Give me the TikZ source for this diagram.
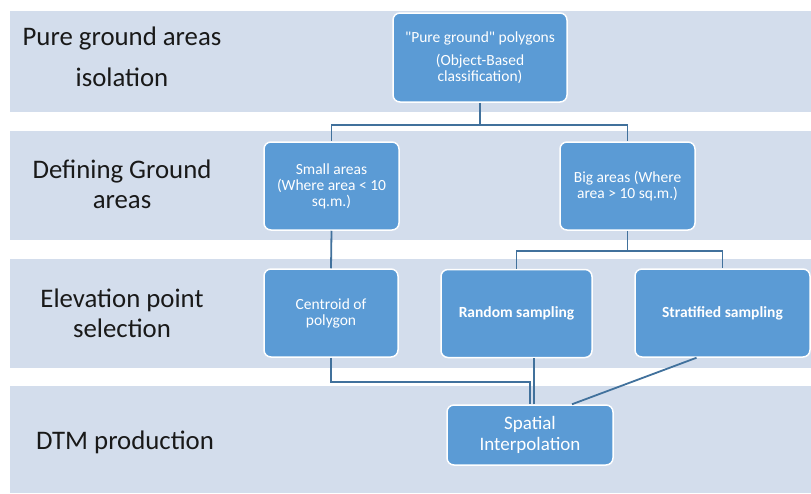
\documentclass[tikz,border=0pt]{standalone}
\usepackage{fontspec}
\setmainfont{Carlito}[Ligatures=TeXOff]
\usetikzlibrary{calc}
\definecolor{bandfill}{RGB}{211,221,236}
\definecolor{boxfill}{RGB}{91,155,213}
\definecolor{linecol}{RGB}{65,113,156}
\definecolor{labelcol}{RGB}{25,25,25}
\tikzset{
  band/.style={fill=bandfill, draw=none},
  stepbox/.style={rectangle, rounded corners=7pt, fill=boxfill, draw=white, line width=1.5pt,
    text=white, align=center, inner sep=2pt, font=\fontsize{15.5}{16}\selectfont},
  boldbox/.style={stepbox, font=\fontsize{15.5}{16}\selectfont\bfseries},
  rowlabel/.style={anchor=base, text=labelcol, font=\fontsize{26.8}{30}\selectfont, inner sep=0pt},
  conn/.style={draw=linecol, line width=1.8pt}
}
\begin{document}
\begin{tikzpicture}[x=1pt,y=-1pt]
\useasboundingbox (0,0) rectangle (811,493);
\fill[white] (0,0) rectangle (811,493);
% bands
\fill[band] (10,11) rectangle (811,112);
\fill[band] (10,131) rectangle (811,240);
\fill[band] (10,259) rectangle (811,368);
\fill[band] (10,386) rectangle (811,493);
% row labels
\node[rowlabel] (l1a) at (122,45) {Pure ground areas};
\node[rowlabel] (l1b) at (122,86) {isolation};
\node[rowlabel] (l2a) at (122,178) {Defining Ground};
\node[rowlabel] (l2b) at (122,208) {areas};
\node[rowlabel] (l3a) at (122,307) {Elevation point};
\node[rowlabel] (l3b) at (122,337) {selection};
\node[rowlabel] (l4a) at (125,449) {DTM production};
% boxes
\node[stepbox, minimum width=174pt, minimum height=89pt] (top) at (480,57.5)
  {"Pure ground" polygons\\[7pt](Object-Based\\classification)};
\node[stepbox, minimum width=135pt, minimum height=88pt] (small) at (331.5,186)
  {Small areas\\(Where area < 10\\sq.m.)};
\node[stepbox, minimum width=135pt, minimum height=88pt] (big) at (627.5,186)
  {Big areas (Where\\area > 10 sq.m.)};
\node[stepbox, minimum width=134pt, minimum height=88pt] (centroid) at (331,313)
  {Centroid of\\polygon};
\node[boldbox, minimum width=151pt, minimum height=88pt] (random) at (516.5,313.5)
  {Random sampling};
\node[boldbox, minimum width=175pt, minimum height=88pt] (strat) at (722.5,313)
  {Stratified sampling};
\node[stepbox, minimum width=166pt, minimum height=60pt, font=\fontsize{19}{21}\selectfont] (spatial) at (530,435)
  {Spatial\\Interpolation};
% connectors
\draw[conn] (top.south) -- ++(0,22) -| (small.north);
\draw[conn] (top.south) ++(0,22) -| (big.north);
\draw[conn] (small.south) -- (centroid.north);
\draw[conn] (big.south) -- ++(0,20) -| (random.north);
\draw[conn] (big.south) ++(0,20) -| (strat.north);
\draw[conn] (centroid.south) |- ($(spatial.north)+(0,-22)$) -- (spatial.north);
\draw[conn] ([xshift=4pt]spatial.north) -- ([xshift=4pt]spatial.north |- random.south);
\draw[conn] ([xshift=-26pt]strat.south) -- ([xshift=42pt]spatial.north);
\end{tikzpicture}
\end{document}
